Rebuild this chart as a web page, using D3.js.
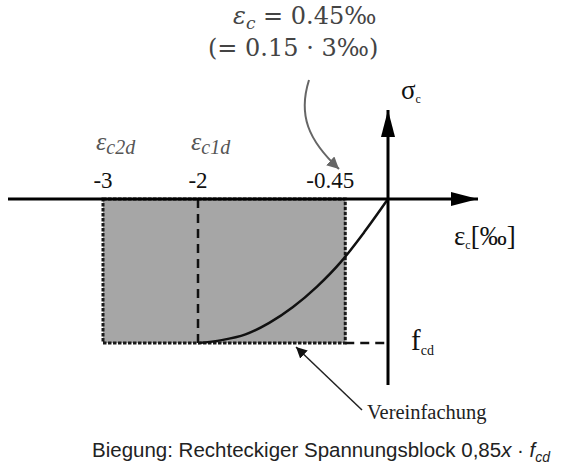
<!DOCTYPE html>
<html>
<head>
<meta charset="UTF-8">
<script src="https://d3js.org/d3.v7.min.js"></script>
<style>
  body { margin: 0; background: #fff; }
  svg text { font-family: "Liberation Serif", "DejaVu Serif", serif; }
</style>
</head>
<body>
<svg id="svg" width="561" height="470"></svg>
<script>
// strain values (per mille) and labels
var tickValues = [-3, -2, -0.45];
var tickLabels = ["-3", "-2", "-0.45"];
var strainNames = ["c2d", "c1d"];
var strainNameAt = [-3, -2];

// parabola part of the stress-strain curve (sigma / fcd)
var curveStrain = [-2, -1.75, -1.5, -1.25, -1, -0.75, -0.5, -0.25, 0];
var curveStress = [1, 0.98, 0.94, 0.86, 0.75, 0.61, 0.44, 0.23, 0];

// simplified rectangular block
var blockFrom = -3, blockTo = -0.45, blockStress = 1;

var svg = d3.select("svg");

var x = d3.scaleLinear().domain([-3, 0]).range([103, 388]);
var y = d3.scaleLinear().domain([0, 1]).range([199, 343]);

var defs = svg.append("defs");
defs.append("marker")
  .attr("id", "head")
  .attr("viewBox", "0 0 10 10")
  .attr("refX", 10).attr("refY", 5)
  .attr("markerWidth", 11).attr("markerHeight", 11)
  .attr("markerUnits", "userSpaceOnUse")
  .attr("orient", "auto")
  .append("path").attr("d", "M0,0 L10,5 L0,10 Z").attr("fill", "#111");
defs.append("marker")
  .attr("id", "bighead")
  .attr("viewBox", "0 0 10 10")
  .attr("refX", 10).attr("refY", 5)
  .attr("markerWidth", 27).attr("markerHeight", 14)
  .attr("markerUnits", "userSpaceOnUse")
  .attr("orient", "auto")
  .attr("preserveAspectRatio", "none")
  .append("path").attr("d", "M0,0 L10,5 L0,10 Z").attr("fill", "#000");
defs.append("marker")
  .attr("id", "grayhead")
  .attr("viewBox", "0 0 10 10")
  .attr("refX", 10).attr("refY", 5)
  .attr("markerWidth", 12).attr("markerHeight", 12)
  .attr("markerUnits", "userSpaceOnUse")
  .attr("orient", "auto")
  .append("path").attr("d", "M0,0 L10,5 L0,10 Z").attr("fill", "#666");

// grey block
svg.append("rect")
  .attr("x", x(blockFrom))
  .attr("y", y(0))
  .attr("width", x(blockTo) - x(blockFrom))
  .attr("height", y(blockStress) - y(0))
  .attr("fill", "#a6a6a6")
  .attr("stroke", "#1a1a1a")
  .attr("stroke-width", 3)
  .attr("stroke-dasharray", "3.5,1.5");

// dashed line at eps_c1d
svg.append("line")
  .attr("x1", x(-2)).attr("x2", x(-2))
  .attr("y1", y(0)).attr("y2", y(1))
  .attr("stroke", "#111").attr("stroke-width", 2.5)
  .attr("stroke-dasharray", "9,6");

// dashed line to fcd
svg.append("line")
  .attr("x1", x(blockTo)).attr("x2", x(0))
  .attr("y1", y(1)).attr("y2", y(1))
  .attr("stroke", "#111").attr("stroke-width", 2.5)
  .attr("stroke-dasharray", "9,6");

// curve
var pts = curveStrain.map(function(d, i) { return [d, curveStress[i]]; });
svg.append("path")
  .datum(pts)
  .attr("d", d3.line()
    .x(function(d) { return x(d[0]); })
    .y(function(d) { return y(d[1]); })
    .curve(d3.curveMonotoneX))
  .attr("fill", "none")
  .attr("stroke", "#111")
  .attr("stroke-width", 2.5);

// axes
svg.append("line")
  .attr("x1", 8).attr("x2", 478)
  .attr("y1", y(0)).attr("y2", y(0))
  .attr("stroke", "#000").attr("stroke-width", 3)
  .attr("marker-end", "url(#bighead)");
svg.append("line")
  .attr("x1", x(0)).attr("x2", x(0))
  .attr("y1", 385).attr("y2", 110)
  .attr("stroke", "#000").attr("stroke-width", 3)
  .attr("marker-end", "url(#bighead)");

// tick labels
var tickDx = [0, 0, -15];
svg.selectAll(".tick")
  .data(tickValues)
  .enter().append("text")
  .attr("class", "tick")
  .attr("x", function(d, i) { return x(d) + tickDx[i]; })
  .attr("y", 188)
  .attr("text-anchor", "middle")
  .attr("font-size", 23)
  .attr("fill", "#111")
  .text(function(d, i) { return tickLabels[i]; });

// eps_c2d / eps_c1d
svg.selectAll(".sname")
  .data(strainNames)
  .enter().append("text")
  .attr("class", "sname")
  .attr("x", function(d, i) { return x(strainNameAt[i]) - 7; })
  .attr("y", 150)
  .attr("font-size", 26)
  .attr("font-style", "italic")
  .attr("fill", "#555")
  .each(function(d) {
    var t = d3.select(this);
    t.append("tspan").text("\u03B5");
    t.append("tspan").attr("dy", 4).attr("font-size", 20).text(d);
  });

// axis names
var sig = svg.append("text").attr("x", 401).attr("y", 99).attr("font-size", 27).attr("fill", "#111");
sig.append("tspan").text("\u03C3");
sig.append("tspan").attr("dy", 4).attr("font-size", 12).text("c");

var eps = svg.append("text").attr("x", 454).attr("y", 245).attr("font-size", 27).attr("fill", "#111");
eps.append("tspan").text("\u03B5");
eps.append("tspan").attr("dy", 4).attr("font-size", 12).text("c");
eps.append("tspan").attr("dy", -4).text("[\u2030]");

var fcd = svg.append("text").attr("x", 411).attr("y", 350).attr("font-size", 29).attr("fill", "#111");
fcd.append("tspan").text("f");
fcd.append("tspan").attr("dy", 5).attr("font-size", 14).text("cd");

// Vereinfachung arrow
svg.append("line")
  .attr("x1", 362).attr("y1", 410)
  .attr("x2", 296).attr("y2", 347)
  .attr("stroke", "#222").attr("stroke-width", 1.5)
  .attr("marker-end", "url(#head)");
svg.append("text")
  .attr("x", 367).attr("y", 419)
  .attr("font-size", 20.5)
  .attr("fill", "#222")
  .text("Vereinfachung");

// annotation at the top
var a1 = svg.append("text").attr("x", 233).attr("y", 24)
  .style("font-family", "DejaVu Serif, serif")
  .attr("font-size", 24).attr("fill", "#444");
a1.append("tspan").attr("font-style", "italic").text("\u03B5");
a1.append("tspan").attr("font-style", "italic").attr("font-size", 17).attr("dy", 5).text("c");
a1.append("tspan").attr("dy", -5).text(" = 0.45\u2030");
svg.append("text").attr("x", 208).attr("y", 56)
  .style("font-family", "DejaVu Serif, serif")
  .attr("font-size", 24).attr("fill", "#444")
  .text("(= 0.15 \u00B7 3\u2030)");

svg.append("path")
  .attr("d", "M309,80 C298,115 308,140 339,169")
  .attr("fill", "none")
  .attr("stroke", "#666").attr("stroke-width", 2)
  .attr("marker-end", "url(#grayhead)");

// caption
var cap = svg.append("text").attr("x", 92).attr("y", 457)
  .style("font-family", "Liberation Sans, Arial, sans-serif")
  .attr("font-size", 20.5).attr("fill", "#222");
cap.append("tspan").text("Biegung: Rechteckiger Spannungsblock 0,85");
cap.append("tspan").attr("font-style", "italic").text("x");
cap.append("tspan").text(" \u00B7 ");
cap.append("tspan").attr("font-style", "italic").text("f");
cap.append("tspan").attr("font-style", "italic").attr("font-size", 14).attr("dy", 5).text("cd");
</script>
</body>
</html>
